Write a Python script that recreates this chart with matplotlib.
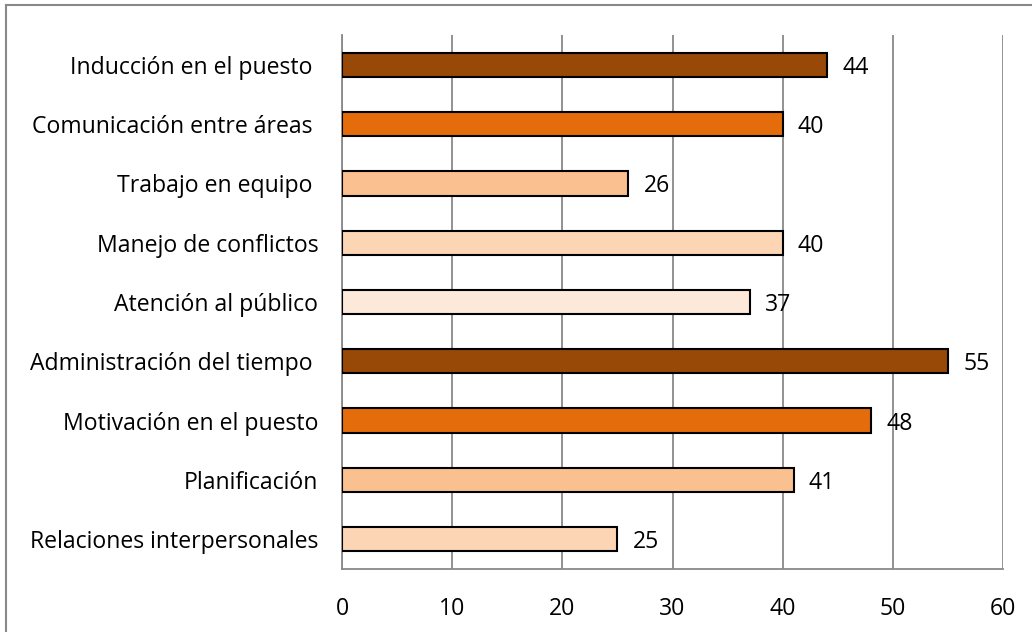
import matplotlib
matplotlib.use("Agg")
import matplotlib.pyplot as plt
from matplotlib.lines import Line2D

categories = [
    "Inducción en el puesto ",
    "Comunicación entre áreas ",
    "Trabajo en equipo ",
    "Manejo de conflictos",
    "Atención al público",
    "Administración del tiempo ",
    "Motivación en el puesto",
    "Planificación",
    "Relaciones interpersonales",
]
values = [44, 40, 26, 40, 37, 55, 48, 41, 25]
colors = ["#984807", "#E46C0A", "#FAC090", "#FCD5B5", "#FDE9D9",
          "#984807", "#E46C0A", "#FAC090", "#FCD5B5"]
xticks = [0, 10, 20, 30, 40, 50, 60]

plt.rcParams["font.family"] = ["Open Sans", "DejaVu Sans"]
grid_color = "#898989"
fs = 16.6

fig = plt.figure(figsize=(10.32, 6.32), dpi=100)
ax = fig.add_axes([0.3314, 0.0997, 0.9719 - 0.3314, 0.9446 - 0.0997])

pos = list(range(len(categories)))[::-1]
ax.barh(pos, values, height=0.41, color=colors, edgecolor="black",
        linewidth=1.5, zorder=3)
for p, v in zip(pos, values):
    ax.annotate(str(v), (v, p), xytext=(11, 0), textcoords="offset points",
                va="center_baseline", ha="left", fontsize=fs, color="black")

ax.set_xlim(0, 60)
ax.set_ylim(-0.5, len(categories) - 0.5)
ax.set_xticks(xticks)
ax.set_yticks(pos)
ax.set_yticklabels(categories, va="center_baseline")
ax.tick_params(axis="both", length=0, labelsize=fs, colors="black")
ax.tick_params(axis="y", pad=17)
ax.tick_params(axis="x", pad=20)
ax.xaxis.grid(True, color=grid_color, linewidth=1.3, zorder=0)
ax.set_axisbelow(True)
for s in ["top", "right"]:
    ax.spines[s].set_visible(False)
for s in ["left", "bottom"]:
    ax.spines[s].set_color(grid_color)
    ax.spines[s].set_linewidth(1.3)

# Frame around the chart area
W, H = 1032, 632
fig.add_artist(Line2D([6 / W, 6 / W], [0, 1 - 5 / H], color=grid_color,
                      linewidth=1.5, transform=fig.transFigure))
fig.add_artist(Line2D([6 / W, 1], [1 - 5 / H, 1 - 5 / H], color=grid_color,
                      linewidth=1.5, transform=fig.transFigure))

fig.savefig("out.png", dpi=100, facecolor="white")
